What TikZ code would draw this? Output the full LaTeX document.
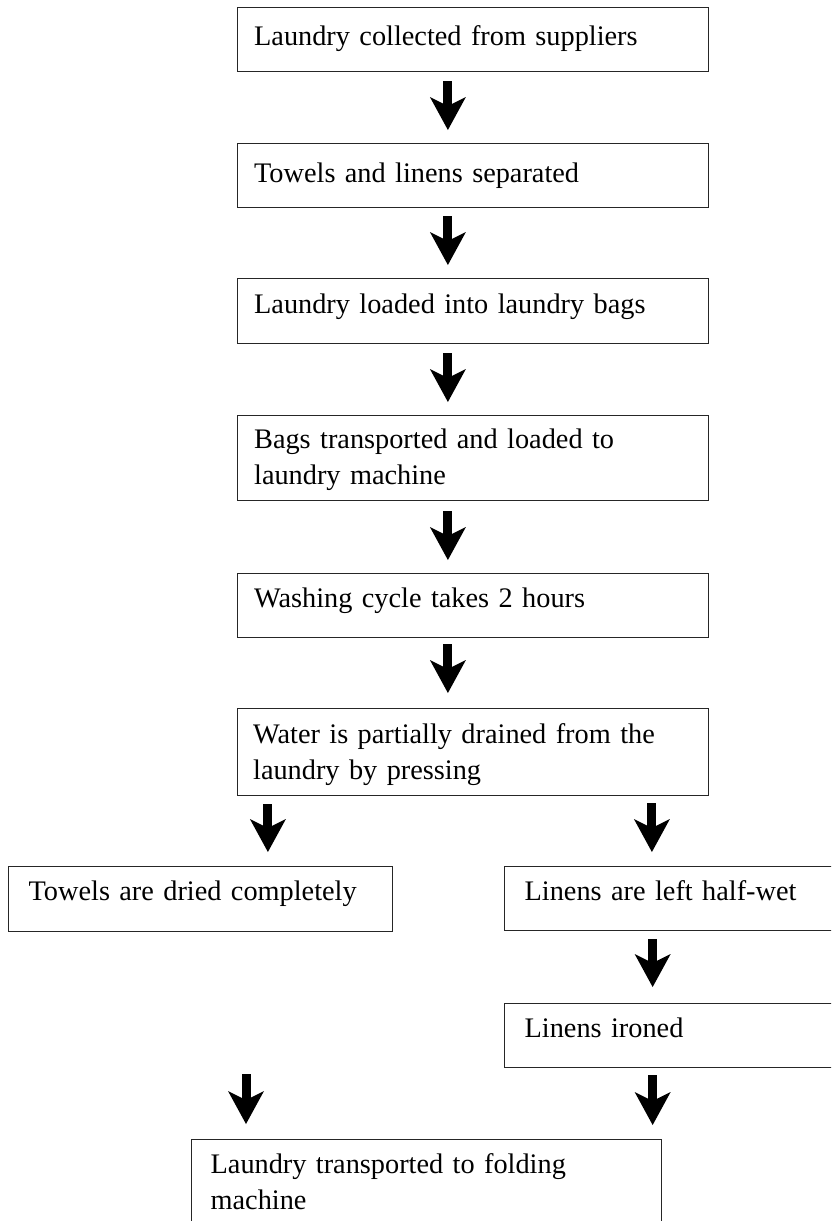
\documentclass[tikz,border=0pt]{standalone}
\usepackage{fontspec}
\setmainfont{Liberation Serif}
\usetikzlibrary{arrows.meta}
\begin{document}
\begin{tikzpicture}[x=1pt,y=1pt,
  flowbox/.style={draw=black!85, line width=1.3pt, anchor=north west, inner ysep=0pt,
    align=left, font=\fontsize{28.3pt}{36pt}\selectfont},
  blk/.style={line width=9pt, -{Stealth[length=33pt,width=36pt,inset=9pt,line width=0pt]}}]
\useasboundingbox[fill=white] (0,0) rectangle (831,-1221);
\clip (0,0) rectangle (831,-1221);
% boxes
\node[flowbox, inner xsep=17pt, text width=437.5pt, text height=38pt, text depth=26pt] (b1) at (236.5,-7) {Laundry collected from suppliers};
\node[flowbox, inner xsep=17pt, text width=437.5pt, text height=39pt, text depth=25pt] (b2) at (236.5,-143) {Towels and linens separated};
\node[flowbox, inner xsep=17pt, text width=437.5pt, text height=35pt, text depth=30pt] (b3) at (236.5,-278) {Laundry loaded into laundry bags};
\node[flowbox, inner xsep=17pt, text width=437.5pt, text height=33pt, text depth=52pt] (b4) at (236.5,-415) {Bags transported and loaded to\\laundry machine};
\node[flowbox, inner xsep=17pt, text width=437.5pt, text height=34pt, text depth=30pt] (b5) at (236.5,-573) {Washing cycle takes 2 hours};
\node[flowbox, inner xsep=16pt, text width=439.5pt, text height=35pt, text depth=52pt] (b6) at (236.5,-708) {\makebox[422pt][s]{Water is partially drained from the}\\laundry by pressing};
\node[flowbox, inner xsep=20pt, text width=344pt, text height=34pt, text depth=31pt] (b7) at (8,-866) {Towels are dried completely};
\node[flowbox, inner xsep=20pt, text width=289pt, text height=34pt, text depth=30pt] (b8) at (504,-866) {Linens are left half-wet};
\node[flowbox, inner xsep=20pt, text width=289pt, text height=34pt, text depth=30pt] (b9) at (504,-1003) {Linens ironed};
\node[flowbox, inner xsep=19pt, text width=432pt, text height=34pt, text depth=66pt] (b10) at (191,-1139) {Laundry transported to folding\\machine};
% helper coordinates for off-centre arrows
\coordinate (l0) at ([xshift=-205pt]b6.south);
\coordinate (r0) at ([xshift=179pt]b6.south);
\coordinate (r1) at ([xshift=-16.5pt]b8.south);
\coordinate (r2) at ([xshift=-16.5pt]b9.south);
\coordinate (lfree) at (246,-1074);
% arrows
\draw[blk, shorten <=9pt, shorten >=13pt] ([xshift=-25pt]b1.south) -- ([xshift=-25pt]b2.north);
\draw[blk, shorten <=8pt, shorten >=13pt] ([xshift=-25pt]b2.south) -- ([xshift=-25pt]b3.north);
\draw[blk, shorten <=9pt, shorten >=13pt] ([xshift=-25pt]b3.south) -- ([xshift=-25pt]b4.north);
\draw[blk, shorten <=10pt, shorten >=13pt] ([xshift=-25pt]b4.south) -- ([xshift=-25pt]b5.north);
\draw[blk, shorten <=6pt, shorten >=15pt] ([xshift=-25pt]b5.south) -- ([xshift=-25pt]b6.north);
\draw[blk, shorten <=8pt, shorten >=14pt] (l0) -- (l0 |- b7.north);
\draw[blk, shorten <=7pt, shorten >=14pt] (r0) -- (r0 |- b8.north);
\draw[blk, shorten <=8pt, shorten >=16pt] (r1) -- (r1 |- b9.north);
\draw[blk, shorten <=7pt, shorten >=14pt] (r2) -- (r2 |- b10.north);
\draw[blk, shorten >=15pt] (lfree) -- (lfree |- b10.north);
\end{tikzpicture}
\end{document}
